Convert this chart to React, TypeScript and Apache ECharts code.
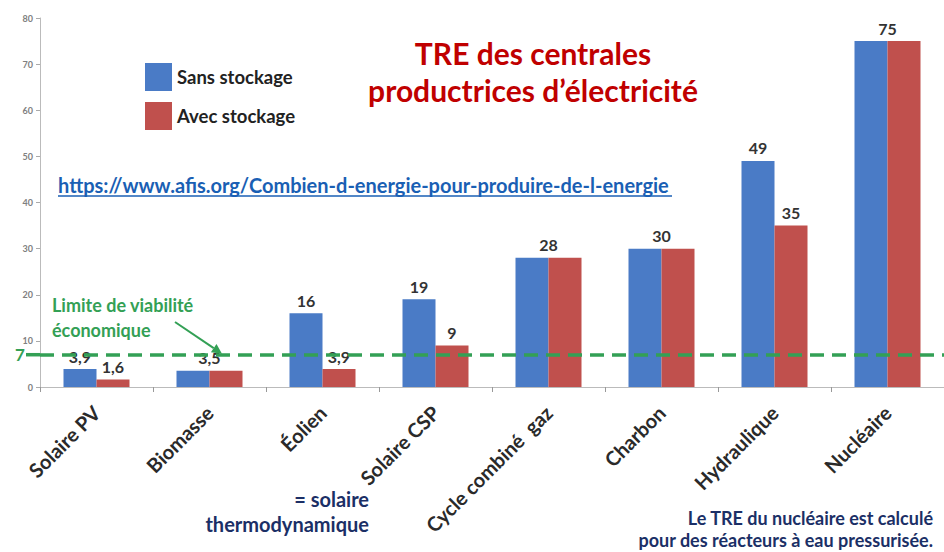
import React, { useEffect, useRef } from "react";
import * as echarts from "echarts";

const categories = ["Solaire PV", "Biomasse", "Éolien", "Solaire CSP", "Cycle combiné  gaz", "Charbon", "Hydraulique", "Nucléaire"];
const sansStockage = [3.9, 3.5, 16, 19, 28, 30, 49, 75];
const avecStockage = [1.6, 3.5, 3.9, 9, 28, 30, 35, 75];
const yTicks = [0, 10, 20, 30, 40, 50, 60, 70, 80];
const threshold = 7;

const BLUE = "#4a7bc6";
const RED = "#c0504d";
const GREEN = "#33a055";
const NAVY = "#1b2f66";
const FONT = "Lato, 'Open Sans', sans-serif";
const BAR_W = 33;

const fmt = (v: number) => String(v).replace(".", ",");

export default function App() {
  const ref = useRef<HTMLDivElement>(null);
  useEffect(() => {
    if (!ref.current) return;
    const chart = echarts.init(ref.current, undefined, { renderer: "svg" });
    const labelBase = {
      show: true,
      position: "top" as const,
      distance: 5,
      fontFamily: FONT,
      fontWeight: "bold" as const,
      fontSize: 16,
      color: "#333",
      formatter: (p: any) => fmt(p.value),
    };
    chart.setOption({
      animation: false,
      backgroundColor: "#fff",
      grid: { left: 40, right: 0, top: 18, bottom: 165, containLabel: false },
      legend: {
        orient: "vertical",
        left: 140,
        top: 58,
        itemWidth: 27,
        itemHeight: 28,
        itemGap: 11,
        icon: "rect",
        textStyle: { fontFamily: FONT, fontWeight: "bold", fontSize: 18.5, color: "#222" },
        data: ["Sans stockage", "Avec stockage"],
      },
      xAxis: {
        type: "category",
        data: categories,
        axisLine: { lineStyle: { color: "#bbb", width: 1 } },
        axisTick: { show: true, length: 5, lineStyle: { color: "#999" } },
        axisLabel: {
          rotate: 45,
          margin: 22,
          interval: 0,
          fontFamily: FONT,
          fontWeight: "bold",
          fontSize: 20,
          color: "#2a2a2a",
        },
      },
      yAxis: {
        type: "value",
        min: yTicks[0],
        max: yTicks[yTicks.length - 1],
        interval: 10,
        splitLine: { show: false },
        axisLine: { show: true, lineStyle: { color: "#bbb" } },
        axisTick: { show: true, length: 4, lineStyle: { color: "#aaa" } },
        axisLabel: { fontFamily: FONT, fontWeight: "bold", fontSize: 9, color: "#808080", margin: 7 },
      },
      series: [
        {
          name: "Sans stockage",
          type: "bar",
          barWidth: BAR_W,
          barGap: "0%",
          itemStyle: { color: BLUE },
          label: labelBase,
          data: sansStockage.map((v, i) => ({
            value: v,
            label: v === avecStockage[i] ? { offset: [BAR_W / 2, 0] } : {},
          })),
          markLine: {
            silent: true,
            symbol: "none",
            label: { show: false },
            lineStyle: { color: GREEN, type: [14, 8], width: 3.5 },
            data: [{ yAxis: threshold }],
          },
        },
        {
          name: "Avec stockage",
          type: "bar",
          barWidth: BAR_W,
          barGap: "0%",
          itemStyle: { color: RED },
          label: labelBase,
          data: avecStockage.map((v, i) => ({
            value: v,
            label: { show: v !== sansStockage[i] },
          })),
        },
      ],
    });

    const yTh = chart.convertToPixel({ yAxisIndex: 0 }, threshold) as number;
    const tip = [222, yTh - 1];
    const from = [175, 322];
    const dx = tip[0] - from[0];
    const dy = tip[1] - from[1];
    const len = Math.sqrt(dx * dx + dy * dy);
    const ux = dx / len, uy = dy / len;
    const px = -uy, py = ux;
    const base = [tip[0] - 10 * ux, tip[1] - 10 * uy];

    chart.setOption({
      graphic: [
        {
          type: "line",
          shape: { x1: 26, y1: yTh, x2: 40, y2: yTh },
          style: { stroke: GREEN, lineWidth: 3.5 },
          silent: true,
        },
        {
          type: "text",
          x: 20,
          y: yTh,
          style: { text: String(threshold), fill: GREEN, font: `bold 17px ${FONT}`, align: "center", verticalAlign: "middle" },
        },
        {
          type: "text",
          x: 533,
          y: 53,
          style: {
            text: "TRE des centrales",
            fill: "#c00000",
            font: `bold 30px ${FONT}`,
            align: "center",
            verticalAlign: "middle",
          },
        },
        {
          type: "text",
          x: 533,
          y: 90,
          style: {
            text: "productrices d’électricité",
            fill: "#c00000",
            font: `bold 30px ${FONT}`,
            align: "center",
            verticalAlign: "middle",
          },
        },
        {
          type: "text",
          x: 58,
          y: 185,
          style: {
            text: "https://www.afis.org/Combien-d-energie-pour-produire-de-l-energie",
            fill: "#1a5fb4",
            font: `bold 20px ${FONT}`,
            align: "left",
            verticalAlign: "middle",
          },
        },
        {
          type: "line",
          shape: { x1: 58, y1: 196, x2: 672, y2: 196 },
          style: { stroke: "#1a5fb4", lineWidth: 1.5 },
        },
        {
          type: "text",
          x: 52,
          y: 317,
          style: {
            text: "Limite de viabilité\néconomique",
            fill: GREEN,
            font: `bold 18px ${FONT}`,
            align: "left",
            verticalAlign: "middle",
            lineHeight: 25,
          },
        },
        {
          type: "line",
          shape: { x1: from[0], y1: from[1], x2: base[0], y2: base[1] },
          style: { stroke: GREEN, lineWidth: 2 },
        },
        {
          type: "polygon",
          shape: {
            points: [
              tip,
              [base[0] + 5 * px, base[1] + 5 * py],
              [base[0] - 5 * px, base[1] - 5 * py],
            ],
          },
          style: { fill: GREEN },
        },
        {
          type: "text",
          x: 369,
          y: 511,
          style: {
            text: "= solaire\nthermodynamique",
            fill: NAVY,
            font: `bold 20px ${FONT}`,
            align: "right",
            verticalAlign: "middle",
            lineHeight: 25,
          },
        },
        {
          type: "text",
          x: 933,
          y: 529,
          style: {
            text: "Le TRE du nucléaire est calculé\npour des réacteurs à eau pressurisée.",
            fill: NAVY,
            font: `bold 18px ${FONT}`,
            align: "right",
            verticalAlign: "middle",
            lineHeight: 22,
          },
        },
      ],
    });

    return () => chart.dispose();
  }, []);
  return <div ref={ref} style={{ width: 944, height: 552, position: "absolute", left: 0, top: 0 }} />;
}
